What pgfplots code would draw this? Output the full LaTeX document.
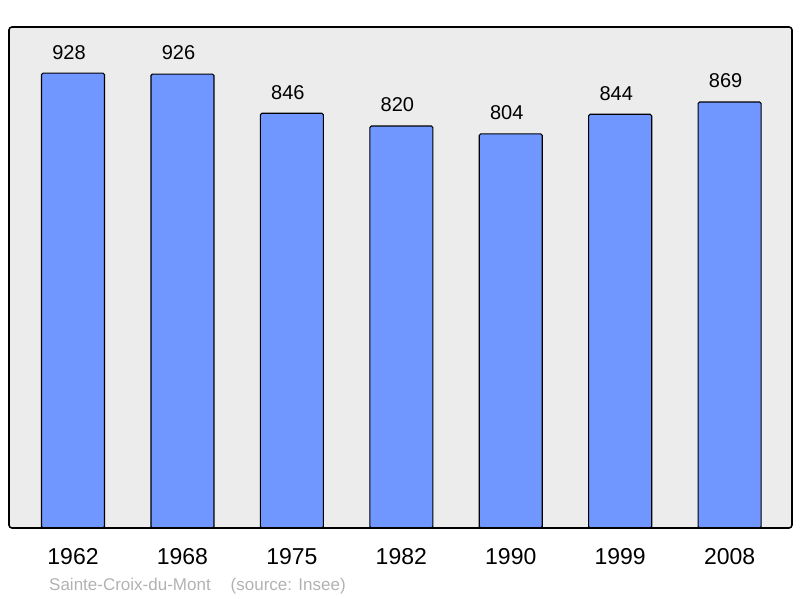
\documentclass[border=0pt]{standalone}
\usepackage{fontspec}
\setmainfont{Liberation Sans}
\usepackage{pgfplots}
\pgfplotsset{compat=1.18}
\definecolor{barblue}{HTML}{7097FF}
\definecolor{panel}{HTML}{ECECEC}
\begin{document}
\begin{tikzpicture}
\path (0,0) rectangle (800pt,598pt);
\begin{axis}[
    at={(9pt,70pt)}, anchor=south west,
    scale only axis, width=783pt, height=501pt,
    ymin=0, ymax=1022,
    xmin=-0.585, xmax=6.57,
    axis line style={draw=none},
    axis background/.style={fill=panel, rounded corners=3pt},
    ytick=\empty,
    xtick={0,...,6},
    xticklabels={1962,1968,1975,1982,1990,1999,2008},
    major tick length=0pt,
    xticklabel style={font=\fontsize{23}{23}\selectfont, yshift=-17pt},
    /pgf/number format/assume math mode=true,
    ybar, bar width=63pt,
    nodes near coords,
    every node near coord/.append style={font=\fontsize{20}{20}\selectfont, yshift=10pt, xshift=-4pt},
    clip=false,
]
\addplot[fill=barblue, draw=black, line width=1.1pt, rounded corners=1.5pt] coordinates {
    (0,928) (1,926) (2,846) (3,820) (4,804) (5,844) (6,869)
};
\draw[line width=1.6pt, rounded corners=3pt] (rel axis cs:0,0) rectangle (rel axis cs:1,1);
\end{axis}
\node[anchor=base west, text=black!30, font=\fontsize{17}{17}\selectfont, inner sep=0pt] at (49pt,8pt) {Sainte-Croix-du-Mont\hspace{20pt}(source: Insee)};
\end{tikzpicture}
\end{document}
